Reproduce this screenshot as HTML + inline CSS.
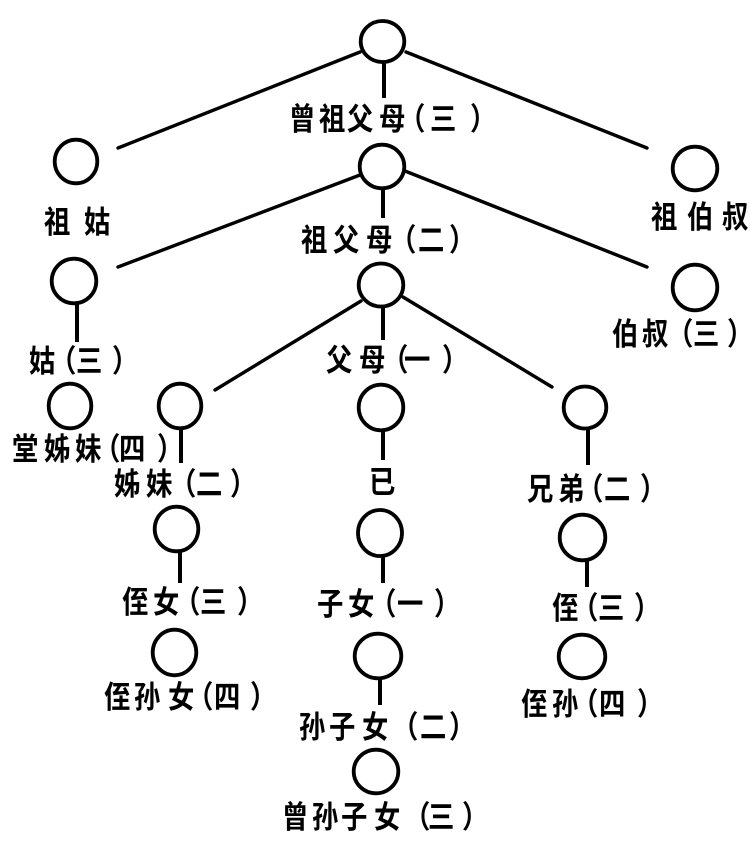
<!DOCTYPE html>
<html>
<head>
<meta charset="utf-8">
<style>
  html, body { margin: 0; padding: 0; background: #ffffff; }
  svg { display: block; }
  .t { font-family: "Liberation Sans", "Noto Sans CJK SC", "WenQuanYi Zen Hei", sans-serif; font-size: 31px; font-weight: bold; fill: #000; }
</style>
</head>
<body>
<svg width="750" height="855" viewBox="0 0 750 855" xmlns="http://www.w3.org/2000/svg">
  <rect x="0" y="0" width="750" height="855" fill="#ffffff"/>

  <!-- diagonal connectors -->
  <g stroke="#000" stroke-width="3.4" stroke-linecap="round" fill="none">
    <line x1="360" y1="52" x2="118" y2="148"/>
    <line x1="406" y1="52" x2="647" y2="148"/>
    <line x1="360" y1="175" x2="118" y2="267"/>
    <line x1="405" y1="171" x2="647" y2="267"/>
    <line x1="361" y1="301" x2="215" y2="390"/>
    <line x1="403" y1="297" x2="552" y2="387"/>
  </g>

  <!-- vertical stems -->
  <g stroke="#000" stroke-width="4" fill="none">
    <line x1="384" y1="62" x2="384" y2="98"/>
    <line x1="383" y1="189" x2="383" y2="218"/>
    <line x1="77" y1="304" x2="77" y2="342"/>
    <line x1="383" y1="307" x2="383" y2="340"/>
    <line x1="181" y1="429" x2="181" y2="463"/>
    <line x1="383" y1="431" x2="383" y2="460"/>
    <line x1="588" y1="429" x2="588" y2="465"/>
    <line x1="180" y1="552" x2="180" y2="583"/>
    <line x1="383" y1="557" x2="383" y2="583"/>
    <line x1="587" y1="561" x2="587" y2="587"/>
    <line x1="380" y1="679" x2="380" y2="705"/>
  </g>

  <!-- nodes -->
  <g stroke="#000" stroke-width="3.8" fill="#fff">
    <ellipse cx="382.5" cy="41.5" rx="21.8" ry="20.5"/>
    <ellipse cx="76" cy="161.5" rx="21.3" ry="21.8"/>
    <ellipse cx="695" cy="168.5" rx="22.3" ry="21.8"/>
    <ellipse cx="382" cy="166.5" rx="22.3" ry="21.8"/>
    <ellipse cx="74" cy="281" rx="22.3" ry="22.3"/>
    <ellipse cx="695" cy="287.5" rx="22.3" ry="22.8"/>
    <ellipse cx="381" cy="285" rx="22.3" ry="21.5"/>
    <ellipse cx="70" cy="406" rx="21.3" ry="22.3"/>
    <ellipse cx="180" cy="406" rx="21.3" ry="22.3"/>
    <ellipse cx="381" cy="407.5" rx="22.3" ry="22.8"/>
    <ellipse cx="585" cy="407.5" rx="21.3" ry="21"/>
    <ellipse cx="176.5" cy="529" rx="21.8" ry="22.3"/>
    <ellipse cx="380" cy="533" rx="22" ry="23"/>
    <ellipse cx="582.5" cy="537.5" rx="22.8" ry="22.8"/>
    <ellipse cx="174.5" cy="652.5" rx="21.8" ry="22.8"/>
    <ellipse cx="378" cy="656" rx="23.3" ry="22.3"/>
    <ellipse cx="582" cy="656.5" rx="23.3" ry="21.8"/>
    <ellipse cx="376" cy="771.5" rx="22.3" ry="21.8"/>
  </g>

  <!-- labels (horizontally condensed) -->
  <g transform="scale(0.85,1)">
    <text class="t" x="340 375.29 408.24 445.88 469.41 505.88 552.94" y="130">曾祖父母（三）</text>
    <text class="t" x="354.12 391.76 430.59 458.82 491.76 528.24" y="251">祖父母（二）</text>
    <text class="t" x="51.76 98.82" y="233">祖姑</text>
    <text class="t" x="765.88 808.24 849.41" y="228">祖伯叔</text>
    <text class="t" x="34.12 58.82 89.41 131.76" y="372">姑（三）</text>
    <text class="t" x="720 755.29 784.71 815.29 855.29" y="345">伯叔（三）</text>
    <text class="t" x="383.53 422.35 449.41 475.29 520" y="371">父母（一）</text>
    <text class="t" x="14.12 51.76 88.24 110.59 140 184.71" y="460">堂姊妹（四）</text>
    <text class="t" x="134.12 171.76 200 230.59 270.59" y="495">姊妹（二）</text>
    <text class="t" x="434.12" y="493">已</text>
    <text class="t" x="620 656.47 678.82 710.59 752.94" y="500">兄弟（二）</text>
    <text class="t" x="143.53 180 204.71 235.29 278.82" y="613">侄女（三）</text>
    <text class="t" x="372.94 409.41 435.29 467.06 510.59" y="615">子女（一）</text>
    <text class="t" x="649.41 672.94 703.53 745.88" y="619">侄（三）</text>
    <text class="t" x="122.35 157.65 197.65 220 251.76 294.12" y="708">侄孙女（四）</text>
    <text class="t" x="351.76 387.06 425.88 461.18 494.12 528.24" y="738">孙子女（二）</text>
    <text class="t" x="612.94 649.41 672.94 704.71 749.41" y="715">侄孙（四）</text>
    <text class="t" x="331.76 367.06 401.18 440 475.29 503.53 543.53" y="828">曾孙子女（三）</text>
  </g>
</svg>
</body>
</html>
